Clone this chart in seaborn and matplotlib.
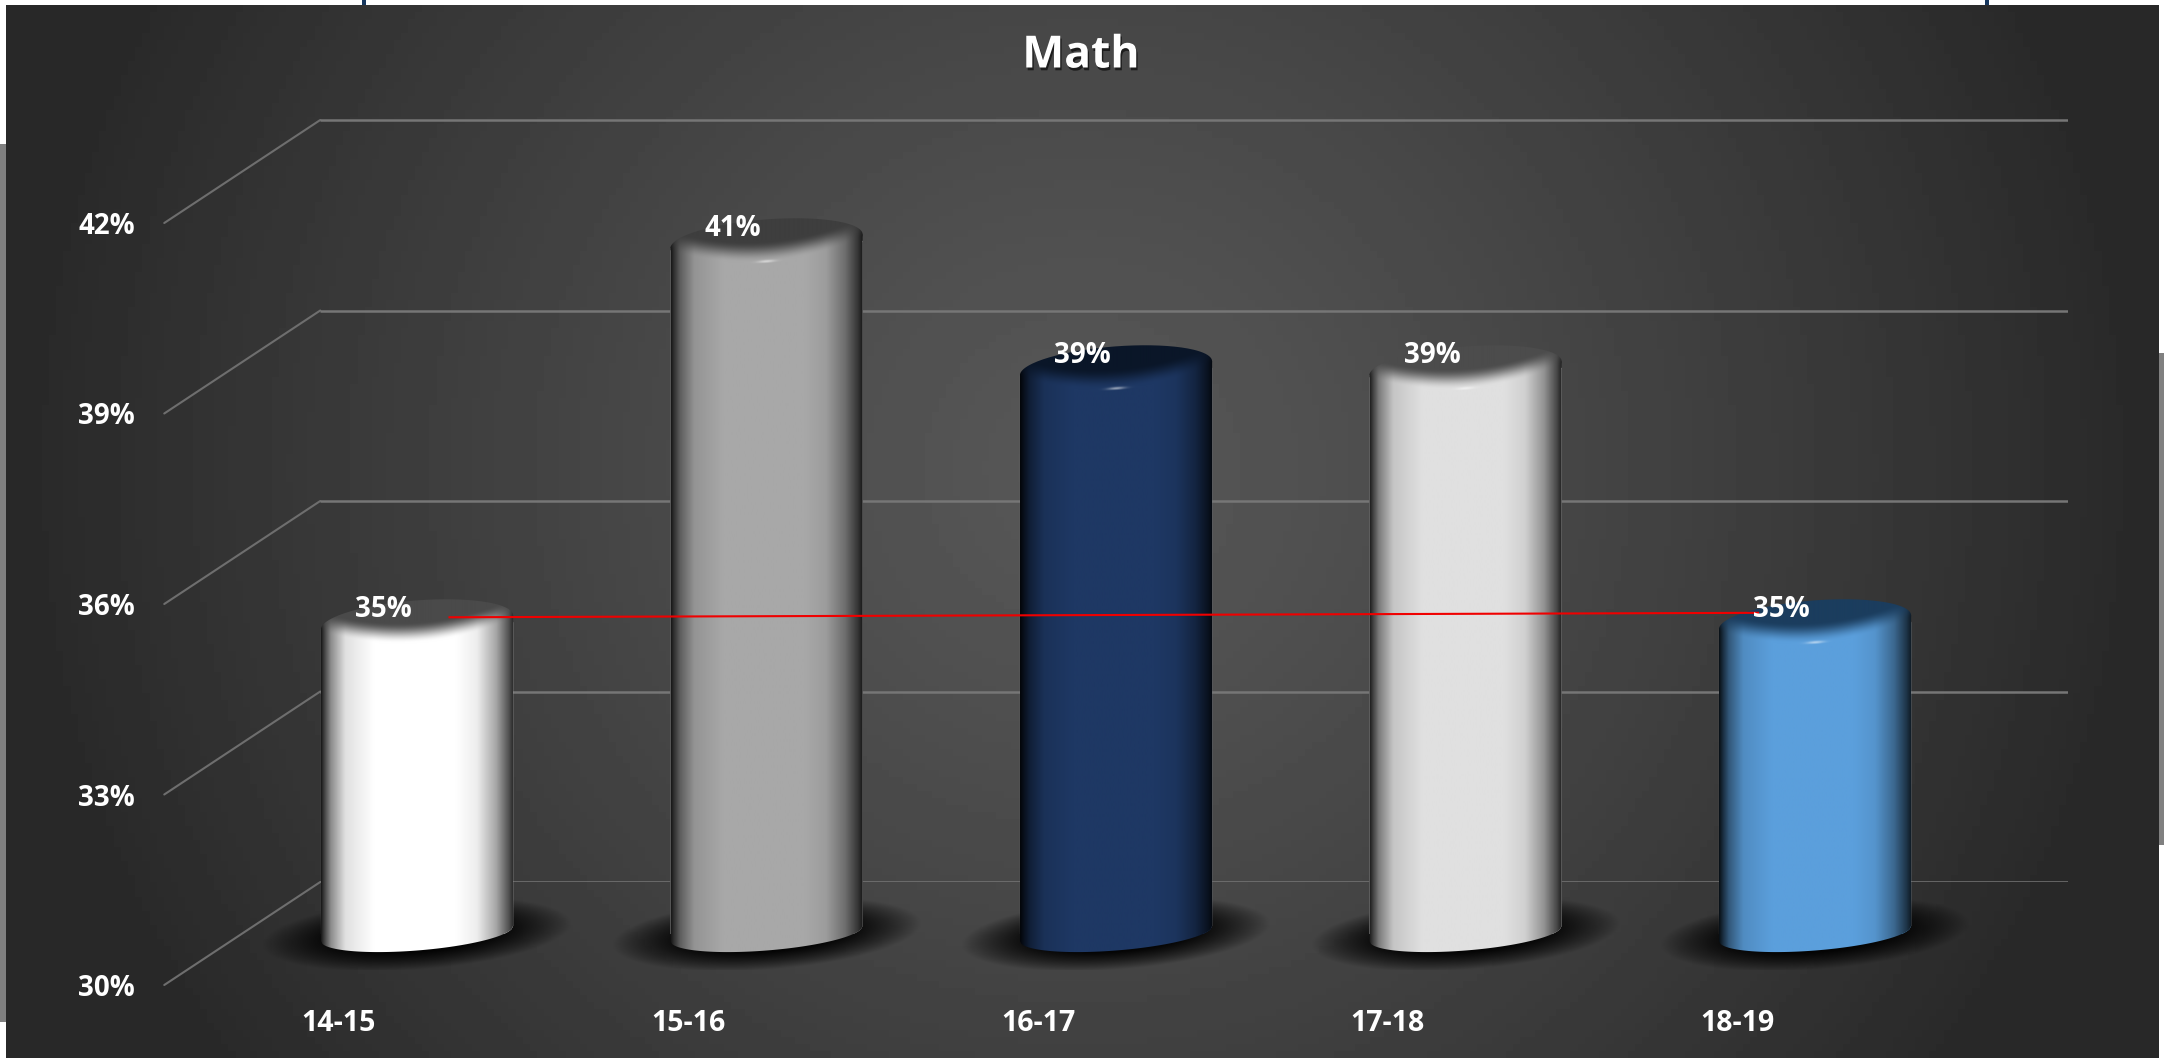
import matplotlib
matplotlib.use('Agg')
import matplotlib.pyplot as plt
import matplotlib.patheffects as pe
from matplotlib.patches import ConnectionPatch, PathPatch, Rectangle
from matplotlib.path import Path
import numpy as np
import seaborn as sns

seasons = ['14-15', '15-16', '16-17', '17-18', '18-19']
math_pct = [34.9, 40.9, 38.9, 38.9, 34.9]
y_ticks = [30, 33, 36, 39, 42]
trend_x = [0.09, 3.84]
trend_y = [34.98, 35.05]

bar_colors = ['#ffffff', '#a8a8a8', '#1e3864', '#e0e0e0', '#5b9fdc']
cap_colors = ['#4a4a4a', '#3e3e3e', '#0a1628', '#4c4c4c', '#1b3d5e']

W, H = 2164, 1060
PX_X, PX_Y = 349.5, 63.5      # pixels per category / per percent point
MID_L, MID_B = 242.25, 933.5  # lower left of the plane the cylinders stand in
DEPTH_X, DEPTH_Y = 78, 51.5   # shift between front, middle and back planes
BAR_W = 0.55
FONT = 'Open Sans'

sns.set_theme(style='dark')
plt.rcParams['font.family'] = [FONT, 'DejaVu Sans']


def plane(fig, dx, dy):
    # one axes per depth plane, all with the same scales
    a = fig.add_axes([(MID_L + dx) / W, (H - MID_B - dy) / H, 5 * PX_X / W, 13 * PX_Y / H])
    a.set_facecolor('none')
    a.set_xlim(-0.5, 4.5)
    a.set_ylim(30, 43)
    a.grid(False)
    sns.despine(ax=a, left=True, bottom=True)
    return a


def smooth(v, lo, hi):
    t = np.clip((v - lo) / (hi - lo), 0, 1)
    return t * t * (3 - 2 * t)


def shade(u):
    # light across the cylinder, u runs from -1 to 1
    return np.interp(u, [-1, -0.97, -0.9, -0.75, -0.45, 0.4, 0.62, 0.82, 0.95, 1],
                     [0.10, 0.25, 0.55, 0.88, 1, 1, 0.93, 0.65, 0.32, 0.15])


fig = plt.figure(figsize=(W / 100, H / 100), dpi=100, facecolor='white')

# dark panel and the bits of the slide around it
bg = fig.add_axes([0, 0, 1, 1])
bg.set_xlim(0, W)
bg.set_ylim(H, 0)
bg.axis('off')
gx, gy = np.meshgrid(np.linspace(-1, 1, 300), np.linspace(-1, 1, 150))
glow = 0x57 - (0x57 - 0x28) * np.clip(np.hypot(gx, 0.5 * (gy + 0.12)), 0, 1) ** 1.25
bg.imshow(glow, cmap='gray', vmin=0, vmax=255, extent=(6, 2159, 1058, 5), aspect='auto')
bg.set_xlim(0, W)
bg.set_ylim(H, 0)
bg.add_patch(Rectangle((0, 144), 6, 878, color='#808080', lw=0))
bg.add_patch(Rectangle((2159, 353), 5, 492, color='#808080', lw=0))
for tick_x in (362, 1985):
    bg.add_patch(Rectangle((tick_x, 0), 4, 5, color='#17375e', lw=0))

back = plane(fig, DEPTH_X, -DEPTH_Y)
ax = plane(fig, 0, 0)
front = plane(fig, -DEPTH_X, DEPTH_Y)

# back wall and side wall lines
back.hlines(y_ticks, -0.5, 4.5, color='#767676', lw=1.8)
back.set_xticks([])
back.set_yticks([])
for t in y_ticks:
    con = ConnectionPatch((-0.5, t), (-0.5, t), coordsA=front.transData, coordsB=back.transData,
                          color='#6e6e6e', lw=1.5)
    back.add_artist(con)
    con.set_clip_on(False)

sns.barplot(x=seasons, y=math_pct, hue=seasons, palette=bar_colors, width=BAR_W,
            legend=False, saturation=1, ax=ax)
ax.set_xlim(-0.5, 4.5)
ax.set_ylim(30, 43)
ax.set_xticks([])
ax.set_yticks([])
ax.set_xlabel('')
ax.set_ylabel('')

half = BAR_W / 2
ang = np.linspace(0, 2 * np.pi, 200)
arc_u = np.linspace(1, -1, 120)
bars = sorted(ax.patches, key=lambda p: p.get_x())

for i, v in enumerate(math_pct):
    rgb = np.array(matplotlib.colors.to_rgb(bar_colors[i]))
    dark = np.array(matplotlib.colors.to_rgb(cap_colors[i]))

    # shadow on the floor, tilted like the foot of the cylinder
    sx, sy = np.meshgrid(np.linspace(-1, 1, 160), np.linspace(-1, 1, 80))
    sh = np.zeros((80, 160, 4))
    sh[..., 3] = 0.92 * np.clip(1.35 * (1 - (sx ** 2 + (sy - 0.3 * sx) ** 2)), 0, 1)
    im = ax.imshow(sh, extent=(i - 155 / PX_X, i + 155 / PX_X, 30 - 36 / PX_Y, 30 + 36 / PX_Y),
                   origin='lower', aspect='auto', zorder=0.5, interpolation='bilinear')
    im.set_clip_box(fig.bbox)

    # body, flat top hidden under the cap, curved foot
    foot_y = 30 + (7.5 * arc_u - 17 * np.sqrt(1 - arc_u ** 2)) / PX_Y
    body_x = np.r_[i - half, i + half, i + arc_u * half]
    body_y = np.r_[v - 7 / PX_Y, v + 7 / PX_Y, foot_y]
    body = PathPatch(Path(np.c_[body_x, body_y]), transform=ax.transData)
    bars[i].set_clip_path(body)
    u = np.linspace(-1, 1, 240)
    strip = (shade(u)[:, None] * rgb)[None, ...]
    im = ax.imshow(strip, extent=(i - half, i + half, 29, v + 1), aspect='auto', zorder=1.5,
                   interpolation='bilinear')
    im.set_clip_path(body)
    im.set_clip_box(fig.bbox)

    # sheared ellipse for the top
    b, s = 22, 7
    cap_x = i + half * np.cos(ang)
    cap_y = v + (s * np.cos(ang) + b * np.sin(ang)) / PX_Y
    cap = PathPatch(Path(np.c_[cap_x, cap_y]), transform=ax.transData)
    yy = np.linspace(-26, 26, 104)
    cu, cy = np.meshgrid(np.linspace(-1, 1, 240), yy)
    sn = (cy - s * cu) / b
    m = smooth(-sn + 0.8 * cu ** 2, 0.0, 0.95)[..., None]
    lit = shade(cu)[..., None] * rgb
    img = dark * (1 - m) + lit * m
    glint = 0.55 * (np.exp(-(cu / 0.09) ** 2) * np.exp(-((sn + 0.93) / 0.06) ** 2))[..., None]
    img = img * (1 - glint) + glint
    im = ax.imshow(np.clip(img, 0, 1), extent=(i - half, i + half, v - 26 / PX_Y, v + 26 / PX_Y),
                   origin='lower', aspect='auto', zorder=1.6, interpolation='bilinear')
    im.set_clip_path(cap)
    im.set_clip_box(fig.bbox)

    ax.annotate(f'{v:.0f}%', (i, v), xytext=(-24, 9.5), textcoords='offset points',
                ha='center', va='center', color='white', fontsize=20, fontweight='bold',
                family=FONT, zorder=5)

ax.set_xlim(-0.5, 4.5)
ax.set_ylim(30, 43)

ax.plot(trend_x, trend_y, color='#f00000', lw=1.5, zorder=4, solid_capstyle='butt')

# labels sit on the front plane
front.set_xticks(range(len(seasons)), seasons)
front.set_yticks(y_ticks, [f'{t}%' for t in y_ticks])
front.tick_params(axis='x', length=0, pad=17, labelcolor='white', labelsize=20.5)
front.tick_params(axis='y', length=0, pad=21, labelcolor='white', labelsize=20)
for lab in front.get_xticklabels() + front.get_yticklabels():
    lab.set_fontweight('bold')

fig.suptitle('Math', x=1081 / W, y=1 - 56 / H, va='center', ha='center', color='white',
             fontsize=32, fontweight='bold',
             path_effects=[pe.SimplePatchShadow(offset=(1, -2), shadow_rgbFace='black', alpha=0.6),
                           pe.Normal()])

fig.savefig('out.png', dpi=100)
